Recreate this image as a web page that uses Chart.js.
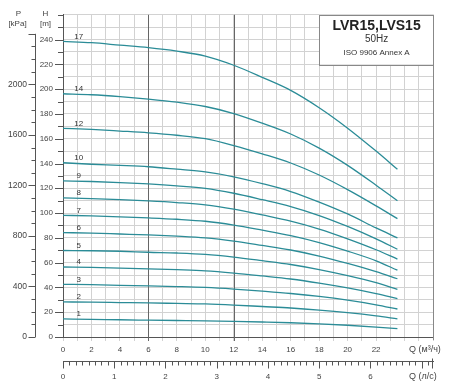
<!DOCTYPE html>
<html>
<head>
<meta charset="utf-8">
<script src="https://cdn.jsdelivr.net/npm/chart.js@4.4.1/dist/chart.umd.min.js"></script>
<style>
  html, body { margin: 0; padding: 0; background: #fff; }
  #wrap { width: 450px; height: 388px; }
</style>
</head>
<body>
<div id="wrap"><canvas id="pumpChart" width="450" height="388"></canvas></div>
<script>
/* === DATA === */
const qPoints = [0, 2, 4, 6, 8, 10, 12, 14, 16, 18, 20, 22, 23.5];   // m3/h
const stageLabels = ['17', '14', '12', '10', '9', '8', '7', '6', '5', '4', '3', '2', '1'];

const h17 = [238.5, 237.5, 235.5, 233.5, 230.7, 226.7, 219.3, 209.5, 199.0, 185.0, 168.5, 150.0, 135.3];
const h14 = [196.3, 195.5, 194.0, 192.0, 189.5, 186.0, 180.3, 172.5, 163.8, 152.4, 138.5, 122.5, 110.0];
const h12 = [168.4, 167.5, 166.2, 164.8, 162.8, 160.0, 154.5, 147.8, 140.4, 130.7, 118.9, 105.8, 95.5];
const h10 = [140.6, 139.4, 138.5, 137.4, 135.4, 133.2, 129.3, 123.8, 117.4, 108.9, 99.3, 88.0, 80.0];
const h9  = [126.0, 125.5, 124.6, 123.5, 122.0, 120.0, 116.0, 110.8, 105.2, 98.0, 89.2, 79.2, 70.8];
const h8  = [112.2, 111.6, 110.8, 109.8, 108.5, 106.7, 103.2, 98.5, 93.5, 87.1, 79.2, 70.4, 62.9];
const h7  = [98.2, 97.7, 97.0, 96.1, 95.0, 93.4, 90.3, 86.2, 81.8, 76.2, 69.3, 61.5, 53.9];
const h6  = [84.3, 83.8, 83.1, 82.4, 81.4, 80.0, 77.4, 73.9, 70.2, 65.3, 59.4, 52.8, 47.0];
const h5  = [69.8, 69.6, 69.2, 68.4, 67.8, 66.7, 64.5, 61.6, 58.5, 54.4, 49.5, 43.8, 38.5];
const h4  = [56.5, 56.2, 55.6, 55.0, 54.3, 53.4, 51.6, 49.3, 46.8, 43.5, 39.6, 35.0, 31.0];
const h3  = [42.5, 42.2, 41.7, 41.2, 40.7, 40.0, 38.7, 37.0, 35.1, 32.7, 29.7, 26.0, 22.6];
const h2  = [28.3, 28.1, 27.8, 27.5, 27.1, 26.7, 25.8, 24.6, 23.4, 21.7, 19.6, 17.0, 14.6];
const h1  = [14.6, 14.3, 13.9, 13.6, 13.3, 13.0, 12.6, 12.1, 11.5, 10.6, 9.5, 8.0, 6.7];

const series = [h17, h14, h12, h10, h9, h8, h7, h6, h5, h4, h3, h2, h1];

/* === AXES === */
const qMax = 26;            // m3/h
const hMax = 260;           // m
const kPaPerM = 9.81;
const m3hPerLs = 3.6;
const pTickMax = 2400;
const darkQ = [6, 12];      // heavier vertical lines

const FONT = "'Liberation Sans', Arial, sans-serif";
Chart.defaults.font.family = FONT;
Chart.defaults.color = '#444';

const LINE = '#2b8c97';
const GRID = '#d2d2d2';
const DARK = '#666';

/* === DECORATION PLUGIN === */
const decor = {
  id: 'decor',
  beforeDatasetsDraw(chart) {
    const c = chart.ctx;
    const a = chart.chartArea;
    const xs = chart.scales.x;
    c.save();
    c.strokeStyle = DARK;
    c.lineWidth = 1;
    c.beginPath();
    darkQ.forEach(q => {
      const x = Math.round(xs.getPixelForValue(q)) + 0.5;
      c.moveTo(x, a.top);
      c.lineTo(x, a.bottom + 4);
    });
    c.stroke();
    c.restore();
  },
  afterDraw(chart) {
    const c = chart.ctx;
    const a = chart.chartArea;
    const xs = chart.scales.x, ys = chart.scales.y, ps = chart.scales.p, x2 = chart.scales.x2;
    c.save();

    // right border
    c.strokeStyle = '#888';
    c.lineWidth = 1;
    c.beginPath();
    c.moveTo(a.right + 0.5, a.top);
    c.lineTo(a.right + 0.5, a.bottom + 3);
    c.stroke();

    // H tick marks
    c.strokeStyle = '#555';
    c.beginPath();
    for (let v = 0; v <= hMax; v += 10) {
      const y = Math.round(ys.getPixelForValue(v)) + 0.5;
      const len = (v % 20 === 0 && v <= 240) ? 8 : 5;
      c.moveTo(a.left - len, y);
      c.lineTo(a.left, y);
    }
    c.stroke();

    // P axis line + ticks
    const px = 35.5;
    c.beginPath();
    c.moveTo(px, ps.getPixelForValue(0));
    c.lineTo(px, ps.getPixelForValue(pTickMax));
    for (let v = 0; v <= pTickMax; v += 100) {
      const y = Math.round(ps.getPixelForValue(v)) + 0.5;
      const len = (v % 400 === 0) ? 7 : 4;
      c.moveTo(px - len, y);
      c.lineTo(px, y);
    }
    c.stroke();

    // l/s ticks
    const ly = x2.top + 0.5;
    c.beginPath();
    for (let v = 0; v <= x2.max + 1e-9; v += 0.125) {
      const x = Math.round(x2.getPixelForValue(v)) + 0.5;
      const len = Math.abs(v - Math.round(v)) < 1e-9 ? 7 : 4;
      c.moveTo(x, ly);
      c.lineTo(x, ly + len);
    }
    const xe = Math.round(x2.getPixelForValue(x2.max)) - 0.5;
    c.moveTo(xe, ly - 3);
    c.lineTo(xe, ly + 7);
    c.stroke();

    // axis titles
    c.fillStyle = '#444';
    c.font = '8px ' + FONT;
    c.textAlign = 'center';
    c.textBaseline = 'middle';
    c.fillText('P', 18.5, 13.5);
    c.fillText('[kPa]', 17.5, 24);
    c.fillText('H', 45.5, 13.5);
    c.fillText('[m]', 45.5, 24);
    c.textAlign = 'left';
    c.font = '9px ' + FONT;
    c.fillText('Q (м³/ч)', 409, 350);
    c.fillText('Q (л/с)', 409, 376.5);

    // stage labels
    c.font = '8px ' + FONT;
    c.fillStyle = '#333';
    c.textAlign = 'center';
    series.forEach((s, i) => {
      c.fillText(stageLabels[i], xs.getPixelForValue(1.1), ys.getPixelForValue(s[0]) - 5);
    });

    // title box
    const bx0 = xs.getPixelForValue(18), bx1 = xs.getPixelForValue(qMax);
    const by0 = ys.getPixelForValue(hMax), by1 = ys.getPixelForValue(220);
    c.fillStyle = '#fff';
    c.fillRect(bx0, by0, bx1 - bx0, by1 - by0);
    c.strokeStyle = '#888';
    c.strokeRect(Math.round(bx0) + 0.5, Math.round(by0) + 0.5, Math.round(bx1 - bx0), Math.round(by1 - by0));
    const cx = (bx0 + bx1) / 2 + 0.5;
    c.fillStyle = '#222';
    c.font = 'bold 14px ' + FONT;
    c.fillText('LVR15,LVS15', cx, 26);
    c.fillStyle = '#333';
    c.font = '10px ' + FONT;
    c.fillText('50Hz', cx, 39.5);
    c.font = '8px ' + FONT;
    c.fillText('ISO 9906 Annex A', cx, 52.5);

    c.restore();
  }
};

/* === CHART === */
const ctx = document.getElementById('pumpChart').getContext('2d');

const chart = new Chart(ctx, {
  type: 'line',
  data: {
    datasets: series.map((s, i) => ({
      label: stageLabels[i],
      data: s.map((h, j) => ({ x: qPoints[j], y: h })),
      borderColor: LINE,
      borderWidth: 1.3,
      pointRadius: 0,
      tension: 0.4,
      cubicInterpolationMode: 'monotone',
      fill: false,
      xAxisID: 'x',
      yAxisID: 'y'
    }))
  },
  options: {
    responsive: false,
    animation: false,
    devicePixelRatio: 1,
    layout: { padding: { left: 0, right: 17, top: 10, bottom: 0 } },
    plugins: {
      legend: { display: false },
      tooltip: { enabled: false }
    },
    scales: {
      x: {
        type: 'linear', position: 'bottom', weight: 0,
        min: 0, max: qMax,
        ticks: {
          stepSize: 1, autoSkip: false, maxRotation: 0, padding: 4,
          font: { size: 8 },
          callback: v => (v % 2 === 0 && v <= 22) ? v : ''
        },
        grid: { color: GRID, tickLength: 4 },
        border: { color: '#555' },
        afterFit: s => { s.height = 24; }
      },
      x2: {
        type: 'linear', position: 'bottom', weight: 1,
        min: 0, max: qMax / m3hPerLs,
        ticks: {
          stepSize: 0.125, autoSkip: false, maxRotation: 0, padding: 11,
          font: { size: 8 },
          callback: v => (Math.abs(v - Math.round(v)) < 1e-9 && v < 7) ? Math.round(v) : ''
        },
        grid: { drawOnChartArea: false, drawTicks: false },
        border: { color: '#555' },
        afterFit: s => { s.height = 27; }
      },
      y: {
        type: 'linear', position: 'left', weight: 0,
        min: 0, max: hMax,
        ticks: {
          stepSize: 10, autoSkip: false, padding: 10,
          font: { size: 8 },
          callback: v => (v % 20 === 0 && v <= 240) ? v : ''
        },
        grid: { color: GRID, drawTicks: false },
        border: { color: '#555' },
        afterFit: s => { s.width = 28; }
      },
      p: {
        type: 'linear', position: 'left', weight: 1,
        min: 0, max: hMax * kPaPerM,
        ticks: {
          stepSize: 100, autoSkip: false, padding: 8,
          font: { size: 8.5 },
          callback: v => (v % 400 === 0 && v <= 2000) ? v : ''
        },
        grid: { display: false, drawOnChartArea: false, drawTicks: false },
        border: { display: false },
        afterFit: s => { s.width = 35; }
      }
    }
  },
  plugins: [decor]
});
</script>
</body>
</html>
